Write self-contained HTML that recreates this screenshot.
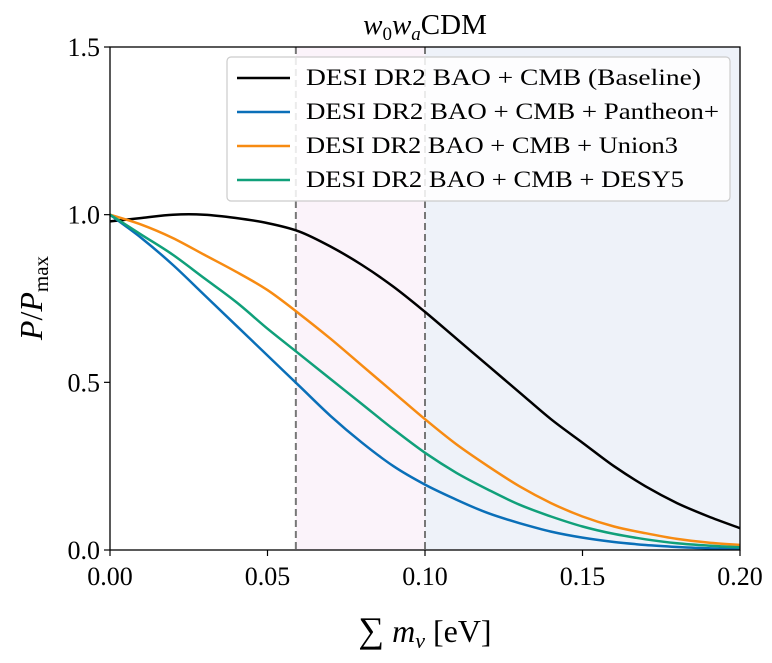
<!DOCTYPE html>
<html><head><meta charset="utf-8">
<style>
body{margin:0;background:#fff;}
svg text{font-family:"Liberation Serif",serif;fill:#000;}
</style></head>
<body>
<svg id="chart" width="772" height="658" viewBox="0 0 772 658" xmlns="http://www.w3.org/2000/svg">
<g id="bg"></g>
<g id="curves"></g>
<g id="axes"></g>
<g id="legend"></g>
</svg>
<script>
const xs=[0,0.01,0.02,0.03,0.04,0.05,0.06,0.07,0.08,0.09,0.10,0.11,0.12,0.13,0.14,0.15,0.16,0.17,0.18,0.19,0.20];
const baseline=[0.98,0.99,1.0,1.0,0.99,0.975,0.95,0.905,0.85,0.785,0.71,0.63,0.55,0.47,0.39,0.32,0.25,0.19,0.14,0.10,0.065];
const pantheon=[1.0,0.93,0.85,0.76,0.67,0.58,0.49,0.40,0.32,0.25,0.195,0.15,0.11,0.08,0.055,0.037,0.024,0.015,0.009,0.005,0.003];
const union3=[1.0,0.97,0.93,0.88,0.83,0.775,0.705,0.63,0.55,0.47,0.39,0.315,0.25,0.19,0.14,0.10,0.07,0.05,0.033,0.022,0.015];
const desy5=[1.0,0.94,0.88,0.81,0.74,0.66,0.585,0.51,0.435,0.36,0.29,0.23,0.18,0.135,0.10,0.07,0.048,0.032,0.02,0.013,0.008];
const xTicks=[0,0.05,0.10,0.15,0.20];
const xTickLabels=["0.00","0.05","0.10","0.15","0.20"];
const yTicks=[0,0.5,1.0,1.5];
const yTickLabels=["0.0","0.5","1.0","1.5"];
const bounds=[0.059,0.10];
const legendLabels=["DESI DR2 BAO + CMB (Baseline)","DESI DR2 BAO + CMB + Pantheon+","DESI DR2 BAO + CMB + Union3","DESI DR2 BAO + CMB + DESY5"];
const legendWidths=[395,413,372,378];

const L=110,R=740,T=47,B=550;
const X=v=>L+(v-0)/0.2*(R-L);
const Y=v=>B-(v/1.5)*(B-T);
const NS="http://www.w3.org/2000/svg";
function mk(tag,attrs,parent){const e=document.createElementNS(NS,tag);for(const k in attrs)e.setAttribute(k,attrs[k]);parent.appendChild(e);return e;}
const bg=document.getElementById('bg'),cg=document.getElementById('curves'),ag=document.getElementById('axes'),lg=document.getElementById('legend');

let r=mk('rect',{x:X(bounds[0]),y:T,width:X(bounds[1])-X(bounds[0]),height:B-T,fill:'#fbf3fa'},bg);


r=mk('rect',{x:X(bounds[1]),y:T,width:R-X(bounds[1]),height:B-T,fill:'#eef2f9'},bg);


bounds.forEach((b,i)=>{const l=mk('line',{x1:X(b),x2:X(b),y1:T,y2:B,stroke:'#777','stroke-width':2,'stroke-dasharray':'7,4'},bg);

});

function smooth(px,py){
 let p='M'+px[0].toFixed(1)+','+py[0].toFixed(1);
 for(let i=0;i<px.length-1;i++){
  const x0=px[Math.max(i-1,0)],y0=py[Math.max(i-1,0)],x1=px[i],y1=py[i],x2=px[i+1],y2=py[i+1],x3=px[Math.min(i+2,px.length-1)],y3=py[Math.min(i+2,px.length-1)];
  const c1x=x1+(x2-x0)/6,c1y=y1+(y2-y0)/6,c2x=x2-(x3-x1)/6,c2y=y2-(y3-y1)/6;
  p+='C'+c1x.toFixed(1)+','+c1y.toFixed(1)+' '+c2x.toFixed(1)+','+c2y.toFixed(1)+' '+x2.toFixed(1)+','+y2.toFixed(1);
 }
 return p;
}
const series=[[baseline,'#000000','baseline'],[pantheon,'#0a6fb8','pantheon'],[union3,'#f78b12','union3'],[desy5,'#10a07a','desy5']];
series.forEach(([d,c,n])=>{
 const e=mk('path',{d:smooth(xs.map(X),d.map(Y)),fill:'none',stroke:c,'stroke-width':2.5,'stroke-linejoin':'round'},cg);
 
 
});

const fr=mk('rect',{x:L,y:T,width:R-L,height:B-T,fill:'none',stroke:'#000','stroke-width':1.3},ag);


xTicks.forEach((v,i)=>{
 mk('line',{x1:X(v),x2:X(v),y1:B,y2:B+6,stroke:'#000','stroke-width':1.2},ag);
 const t=mk('text',{x:X(v),y:B+35,'text-anchor':'middle','font-size':26},ag);t.textContent=xTickLabels[i];
 
 
});
yTicks.forEach((v,i)=>{
 mk('line',{x1:L-6,x2:L,y1:Y(v),y2:Y(v),stroke:'#000','stroke-width':1.2},ag);
 const t=mk('text',{x:L-10,y:Y(v)+9,'text-anchor':'end','font-size':26},ag);t.textContent=yTickLabels[i];
 
 
});
let t=mk('text',{x:425,y:34,'text-anchor':'middle','font-size':29},ag);
t.innerHTML='<tspan font-style="italic">w</tspan><tspan font-size="19" dy="6">0</tspan><tspan font-style="italic" dy="-6">w</tspan><tspan font-size="19" font-style="italic" dy="6">a</tspan><tspan dy="-6">CDM</tspan>';


t=mk('text',{x:425,y:642,'text-anchor':'middle','font-size':32},ag);
t.innerHTML='<tspan font-size="36">∑</tspan> <tspan font-style="italic">m</tspan><tspan font-style="italic" font-size="22" dy="6">ν</tspan><tspan dy="-6"> [eV]</tspan>';


t=mk('text',{x:0,y:0,'text-anchor':'middle','font-size':32,transform:'translate(42,298) rotate(-90)'},ag);
t.innerHTML='<tspan font-style="italic">P</tspan>/<tspan font-style="italic">P</tspan><tspan font-size="21" dy="6">max</tspan>';



const lb=mk('rect',{x:227,y:57,width:503,height:144,rx:4,fill:'#fff','fill-opacity':0.85,stroke:'#ccc','stroke-width':1.2},lg);


series.forEach(([d,c,n],i)=>{
 const y=78+i*34;
 const g=mk('g',{},lg);
 
 
 mk('line',{x1:237,x2:290,y1:y,y2:y,stroke:c,'stroke-width':2.5},g);
 const tt=mk('text',{x:306,y:y+7,'font-size':23,textLength:legendWidths[i],lengthAdjust:'spacingAndGlyphs'},g);tt.textContent=legendLabels[i];
});
</script>
</body></html>
